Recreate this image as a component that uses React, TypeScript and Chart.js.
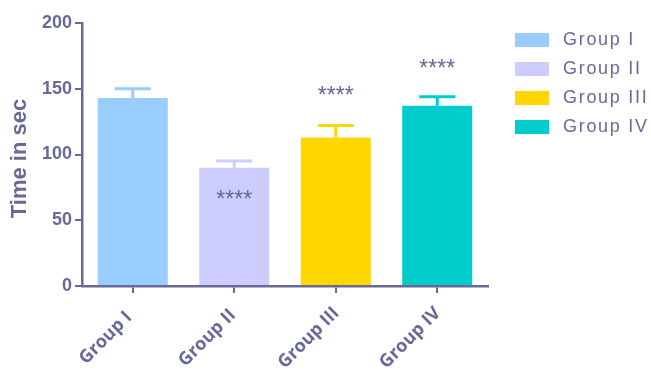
import React, { useEffect, useRef } from "react";
import { Chart, registerables } from "chart.js";

Chart.register(...registerables);

const categories = ["Group I", "Group II", "Group III", "Group IV"];
const means = [143, 90, 113, 137];
const errorTops = [150, 95, 122, 144];
const starLabels = ["", "****", "****", "****"];
const starValues = [0, 68.8, 147.8, 167.7];
const colors = ["#99CCFF", "#CCCCFF", "#FFD700", "#00CCCC"];
const yTitle = "Time in sec";

const INK = "#68689A";
const W = 651;
const H = 371;

const extrasPlugin = {
  id: "extras",
  afterDatasetsDraw(chart: any) {
    const ctx = chart.ctx;
    const x = chart.scales.x;
    const y = chart.scales.y;
    const area = chart.chartArea;
    ctx.save();
    categories.forEach((c, i) => {
      const cx = x.getPixelForValue(i);
      const yb = y.getPixelForValue(means[i]);
      const yt = y.getPixelForValue(errorTops[i]);
      ctx.strokeStyle = colors[i];
      ctx.lineWidth = 3;
      ctx.beginPath();
      ctx.moveTo(cx, yb);
      ctx.lineTo(cx, yt);
      ctx.moveTo(cx - 18, yt);
      ctx.lineTo(cx + 18, yt);
      ctx.stroke();
      if (starLabels[i]) {
        ctx.fillStyle = INK;
        ctx.font = "23px 'Liberation Sans', Arial, sans-serif";
        ctx.textAlign = "center";
        ctx.textBaseline = "alphabetic";
        ctx.fillText(starLabels[i], cx, y.getPixelForValue(starValues[i]) + 11);
      }
      // rotated category label
      ctx.save();
      ctx.translate(cx - 27, area.bottom + 52);
      ctx.rotate(-Math.PI / 4);
      ctx.fillStyle = INK;
      ctx.font = "bold 18px 'Open Sans', sans-serif";
      ctx.textAlign = "center";
      ctx.textBaseline = "middle";
      ctx.fillText(c, 0, 0);
      ctx.restore();
    });
    // y title
    ctx.save();
    ctx.translate(20, (area.top + area.bottom) / 2 + 4);
    ctx.rotate(-Math.PI / 2);
    ctx.fillStyle = INK;
    ctx.font = "bold 22px 'Liberation Sans', Arial, sans-serif";
    ctx.textAlign = "center";
    ctx.textBaseline = "middle";
    ctx.fillText(yTitle, 0, 0);
    ctx.restore();
    // legend
    const lx = area.right + 27;
    categories.forEach((c, i) => {
      const top = 33 + i * 29;
      ctx.fillStyle = colors[i];
      ctx.fillRect(lx, top, 34, 14);
      ctx.fillStyle = INK;
      ctx.font = "18px 'Liberation Sans', Arial, sans-serif";
      (ctx as any).letterSpacing = "1.7px";
      ctx.textAlign = "left";
      ctx.textBaseline = "middle";
      ctx.fillText(c, lx + 48, top + 7);
      (ctx as any).letterSpacing = "0px";
    });
    ctx.restore();
  },
};

export default function App() {
  const ref = useRef<HTMLCanvasElement>(null);
  useEffect(() => {
    if (!ref.current) return;
    const chart = new Chart(ref.current, {
      type: "bar",
      data: {
        labels: categories,
        datasets: [
          {
            data: means,
            backgroundColor: colors,
            barPercentage: 0.69,
            categoryPercentage: 1,
          },
        ],
      },
      options: {
        animation: false,
        responsive: false,
        maintainAspectRatio: false,
        layout: { padding: { top: 23, right: W - 488, left: 0, bottom: 0 } },
        plugins: { legend: { display: false }, tooltip: { enabled: false } },
        scales: {
          x: {
            afterFit: (s: any) => {
              s.height = H - 286;
            },
            grid: {
              offset: false,
              drawOnChartArea: false,
              drawTicks: true,
              tickLength: 7,
              color: INK,
              lineWidth: 2,
            },
            border: { color: INK, width: 2.5 },
            ticks: { display: false },
          },
          y: {
            min: 0,
            max: 200,
            afterFit: (s: any) => {
              s.width = 82;
            },
            grid: {
              drawOnChartArea: false,
              drawTicks: true,
              tickLength: 7,
              color: INK,
              lineWidth: 2,
            },
            border: { color: INK, width: 2.5 },
            ticks: {
              stepSize: 50,
              color: INK,
              padding: 3,
              font: { family: "'Liberation Sans', Arial, sans-serif", size: 18, weight: "bold" },
            },
          },
        },
      },
      plugins: [extrasPlugin],
    });
    return () => chart.destroy();
  }, []);
  return (
    <div style={{ position: "fixed", left: 0, top: 0, width: W, height: H, background: "#fff" }}>
      <canvas ref={ref} width={W} height={H} style={{ display: "block", width: W, height: H }} />
    </div>
  );
}
